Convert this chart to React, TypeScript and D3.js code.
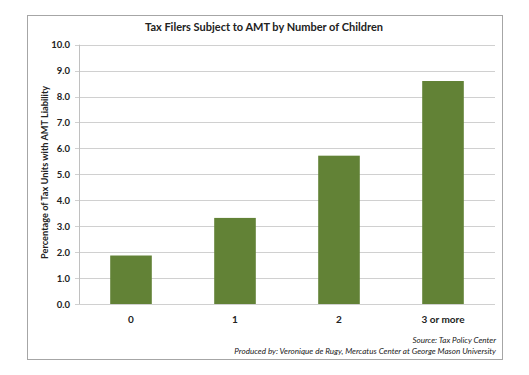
import React from "react";
import * as d3 from "d3";

const categories = ["0", "1", "2", "3 or more"];
const values = [1.87, 3.32, 5.72, 8.6];
const yTicks = [0, 1, 2, 3, 4, 5, 6, 7, 8, 9, 10];

const W = 529, H = 375;
const FONT = "Lato, 'Open Sans', sans-serif";

export default function App() {
  const x = d3.scaleBand().domain(categories).range([79, 495]).paddingInner(0.6).paddingOuter(0.3);
  const y = d3.scaleLinear().domain([0, 10]).range([304, 44.7]);
  return (
    <svg width={W} height={H} style={{ position: "absolute", left: 0, top: 0 }}>
      <rect x={0} y={0} width={W} height={H} fill="#fff" />
      <rect x={27.5} y={15.5} width={475} height={344} fill="#fff" stroke="#a6a6a6" strokeWidth={1} />
      <text x={264} y={31} textAnchor="middle" fontFamily={FONT} fontWeight="bold" fontSize={11} fill="#222">
        Tax Filers Subject to AMT by Number of Children
      </text>
      {yTicks.map((t) => (
        <g key={t}>
          <line x1={75} x2={495} y1={Math.round(y(t)) + 0.5} y2={Math.round(y(t)) + 0.5} stroke="#d0d0d0" />
          <text x={70} y={y(t) + 3.5} textAnchor="end" fontFamily={FONT} fontWeight="bold" fontSize={9.5} fill="#222">
            {t.toFixed(1)}
          </text>
        </g>
      ))}
      <line x1={79.5} x2={79.5} y1={y(10)} y2={y(0)} stroke="#c0c0c0" />
      {categories.map((c, i) => (
        <g key={c}>
          <rect x={x(c)!} y={y(values[i])} width={x.bandwidth()} height={y(0) - y(values[i])} fill="#628236" />
          <text x={x(c)! + x.bandwidth() / 2} y={323} textAnchor="middle" fontFamily={FONT} fontWeight="bold" fontSize={10} fill="#222">
            {c}
          </text>
        </g>
      ))}
      <text transform={`translate(48,${y(5) - 2}) rotate(-90)`} textAnchor="middle" fontFamily={FONT} fontWeight="bold" fontSize={9.2} fill="#222">
        Percentage of Tax Units with AMT Liability
      </text>
      <text x={496} y={343} textAnchor="end" fontFamily={FONT} fontStyle="italic" fontSize={8.1} fill="#222">
        Source: Tax Policy Center
      </text>
      <text x={496} y={354} textAnchor="end" fontFamily={FONT} fontStyle="italic" fontSize={8.1} fill="#222">
        Produced by: Veronique de Rugy, Mercatus Center at George Mason University
      </text>
    </svg>
  );
}
